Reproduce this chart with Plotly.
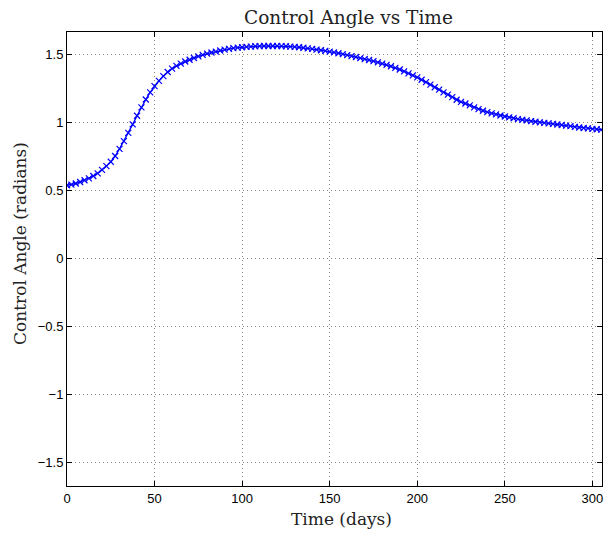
import plotly.graph_objects as go

days = [0, 2.5, 5, 7.5, 10, 12.5, 15, 17.5, 20, 22.5, 25, 27.5, 30, 32.5, 35, 37.5, 40, 42.5, 45, 47.5,
        50, 52.5, 55, 57.5, 60, 62.5, 65, 67.5, 70, 72.5, 75, 77.5, 80, 82.5, 85, 87.5, 90, 92.5, 95, 97.5,
        100, 102.5, 105, 107.5, 110, 112.5, 115, 117.5, 120, 122.5, 125, 127.5, 130, 132.5, 135, 137.5, 140, 142.5, 145, 147.5,
        150, 152.5, 155, 157.5, 160, 162.5, 165, 167.5, 170, 172.5, 175, 177.5, 180, 182.5, 185, 187.5, 190, 192.5, 195, 197.5,
        200, 202.5, 205, 207.5, 210, 212.5, 215, 217.5, 220, 222.5, 225, 227.5, 230, 232.5, 235, 237.5, 240, 242.5, 245, 247.5,
        250, 252.5, 255, 257.5, 260, 262.5, 265, 267.5, 270, 272.5, 275, 277.5, 280, 282.5, 285, 287.5, 290, 292.5, 295, 297.5,
        300, 302.5, 305]

angle = [0.537, 0.542, 0.550, 0.561, 0.574, 0.588, 0.605, 0.625, 0.650, 0.678, 0.710, 0.752, 0.805, 0.862, 0.922, 0.985, 1.048, 1.110, 1.168, 1.220,
         1.266, 1.305, 1.340, 1.370, 1.395, 1.415, 1.432, 1.447, 1.460, 1.473, 1.485, 1.496, 1.505, 1.513, 1.520, 1.528, 1.535, 1.540, 1.545, 1.549,
         1.552, 1.555, 1.557, 1.559, 1.560, 1.561, 1.561, 1.561, 1.561, 1.560, 1.559, 1.557, 1.555, 1.552, 1.548, 1.544, 1.540, 1.535, 1.530, 1.525,
         1.520, 1.514, 1.508, 1.501, 1.494, 1.487, 1.480, 1.472, 1.465, 1.458, 1.450, 1.441, 1.432, 1.422, 1.412, 1.400, 1.388, 1.374, 1.360, 1.345,
         1.330, 1.313, 1.295, 1.277, 1.258, 1.240, 1.220, 1.203, 1.185, 1.166, 1.150, 1.138, 1.125, 1.110, 1.097, 1.085, 1.075, 1.066, 1.058, 1.050,
         1.043, 1.036, 1.030, 1.024, 1.019, 1.014, 1.009, 1.004, 1.000, 0.996, 0.992, 0.988, 0.984, 0.980, 0.976, 0.972, 0.967, 0.962, 0.958, 0.955,
         0.952, 0.949, 0.946]

x_ticks = [0, 50, 100, 150, 200, 250, 300]
y_ticks = [-1.5, -1, -0.5, 0, 0.5, 1, 1.5]
y_tick_text = ["\u22121.5", "\u22121", "\u22120.5", "0", "0.5", "1", "1.5"]

title_text = "Control Angle vs Time"
x_label = "Time (days)"
y_label = "Control Angle (radians)"

fig = go.Figure()
fig.add_trace(go.Scatter(
    x=days, y=angle, mode="lines+markers",
    line=dict(color="#0000ff", width=1.3),
    marker=dict(symbol="x-thin", size=6, color="#0000ff", line=dict(width=1.2, color="#0000ff")),
    showlegend=False,
))

W, H = 604, 533
L, R, T, B = 67, 2, 32, 47

axis_common = dict(
    showline=True, linecolor="black", linewidth=1, mirror="ticks",
    ticks="inside", ticklen=5, tickcolor="black", tickwidth=1,
    showgrid=True, gridcolor="#8a8a8a", gridwidth=1, griddash="1px,3px",
    zeroline=False,
    tickfont=dict(family="Liberation Sans, Arial, sans-serif", size=13, color="black"),
)

fig.update_xaxes(range=[0, 305.5], tickvals=x_ticks, ticktext=[str(v) for v in x_ticks], **axis_common)
fig.update_yaxes(range=[-1.674, 1.664], tickvals=y_ticks, ticktext=y_tick_text, **axis_common)

serif = "DejaVu Serif, serif"
fig.update_layout(
    width=W, height=H,
    margin=dict(l=L, r=R, t=T, b=B, pad=0),
    paper_bgcolor="white", plot_bgcolor="white",
    annotations=[
        dict(text=title_text, xref="paper", yref="paper", x=(348 - L) / (W - L - R), y=1 + (T - 18) / (H - T - B),
             xanchor="center", yanchor="middle", showarrow=False,
             font=dict(family=serif, size=18.5, color="#222")),
        dict(text=x_label, xref="paper", yref="paper", x=(342 - L) / (W - L - R), y=-(519 - (H - B)) / (H - T - B),
             xanchor="center", yanchor="middle", showarrow=False,
             font=dict(family=serif, size=17, color="#222")),
        dict(text=y_label, xref="paper", yref="paper", x=-(L - 20) / (W - L - R), y=(H - B - 244) / (H - T - B),
             xanchor="center", yanchor="middle", showarrow=False, textangle=-90,
             font=dict(family=serif, size=17, color="#222")),
    ],
)

fig.write_html("out.html")
